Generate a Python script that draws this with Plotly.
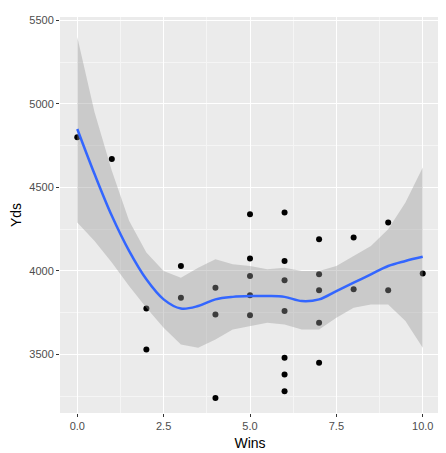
import plotly.graph_objects as go

wins = [0, 1, 2, 2, 3, 3, 4, 4, 4, 5, 5, 5, 5, 5, 6, 6, 6, 6, 6, 6, 6, 7, 7, 7, 7, 7, 8, 8, 9, 9, 10]
yds = [4800, 4670, 3775, 3530, 4030, 3840, 3900, 3740, 3240, 4340, 4075, 3970, 3855, 3735,
       4350, 4060, 3945, 3760, 3480, 3380, 3280, 4190, 3980, 3885, 3690, 3450, 4200, 3890, 4290, 3885, 3985]

sx = [0, 0.5, 1, 1.5, 2, 2.5, 3, 3.5, 4, 4.5, 5, 5.5, 6, 6.5, 7, 7.5, 8, 8.5, 9, 9.5, 10]
fit = [4850, 4580, 4330, 4120, 3950, 3830, 3775, 3790, 3830, 3845, 3850, 3850, 3845, 3820, 3830, 3880, 3930, 3980, 4030, 4060, 4085]
upper = [5400, 4950, 4600, 4300, 4110, 4000, 3960, 4020, 4070, 4040, 4030, 4010, 4020, 4000, 4000, 4030, 4090, 4150, 4250, 4410, 4620]
lower = [4290, 4180, 4050, 3910, 3780, 3660, 3560, 3540, 3590, 3650, 3670, 3690, 3680, 3650, 3650, 3720, 3780, 3800, 3800, 3700, 3540]

fig = go.Figure()
fig.add_trace(go.Scatter(x=wins, y=yds, mode='markers', marker=dict(color='black', size=6)))
fig.add_trace(go.Scatter(x=sx + sx[::-1], y=upper + lower[::-1], fill='toself', mode='lines',
                         line=dict(width=0), fillcolor='rgba(153,153,153,0.4)'))
fig.add_trace(go.Scatter(x=sx, y=fit, mode='lines', line=dict(color='#3366FF', width=2.5), line_shape='spline'))

fig.update_layout(width=446, height=453, showlegend=False, paper_bgcolor='white', plot_bgcolor='#EBEBEB',
                  margin=dict(l=52, r=14, t=6, b=48), font=dict(family='Liberation Sans', color='#4D4D4D', size=11))
grid = dict(gridcolor='white', gridwidth=1.2, showline=False, zeroline=False, ticks='outside',
            ticklen=3, tickcolor='#333333')
fig.update_xaxes(range=[-0.5, 10.5], tickvals=[0, 2.5, 5, 7.5, 10], ticktext=['0.0', '2.5', '5.0', '7.5', '10.0'],
                 minor=dict(tickvals=[1.25, 3.75, 6.25, 8.75], showgrid=True, gridcolor='#F5F5F5', gridwidth=0.6, ticks=''),
                 title=dict(text='Wins', font=dict(size=14, color='black'), standoff=6), **grid)
fig.update_yaxes(range=[3150, 5520], tickvals=[3500, 4000, 4500, 5000, 5500],
                 minor=dict(tickvals=[3250, 3750, 4250, 4750, 5250], showgrid=True, gridcolor='#F5F5F5', gridwidth=0.6, ticks=''),
                 title=dict(text='Yds', font=dict(size=14, color='black'), standoff=6), **grid)
fig.write_html("out.html")
